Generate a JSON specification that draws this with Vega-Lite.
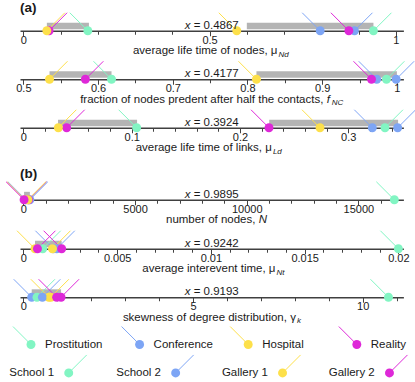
{
"$schema": "https://vega.github.io/schema/vega-lite/v6.json",
"padding": {"left": 4, "top": 0.75, "right": 0, "bottom": 0},
"bounds": "flush",
"spacing": 24.5,
"config": {"font": "Liberation Sans", "view": {"stroke": null}, "text": {"color": "#1a1a1a", "fontSize": 11.5}},
"datasets": {
"points": [
{"panel":1,"name":"Prostitution","value":0.173},{"panel":1,"name":"Conference","value":0.797},{"panel":1,"name":"Hospital","value":0.573},{"panel":1,"name":"School 1","value":0.940},{"panel":1,"name":"School 2","value":0.889},{"panel":1,"name":"Gallery 2","value":0.069},{"panel":1,"name":"Gallery 1","value":0.063},{"panel":1,"name":"Reality","value":0.874},
{"panel":2,"name":"Prostitution","value":0.618},{"panel":2,"name":"Conference","value":0.973},{"panel":2,"name":"Hospital","value":0.812},{"panel":2,"name":"School 1","value":0.986},{"panel":2,"name":"School 2","value":0.999},{"panel":2,"name":"Gallery 2","value":0.583},{"panel":2,"name":"Gallery 1","value":0.535},{"panel":2,"name":"Reality","value":0.966},
{"panel":3,"name":"Prostitution","value":0.1046},{"panel":3,"name":"Conference","value":0.3222},{"panel":3,"name":"Hospital","value":0.2739},{"panel":3,"name":"School 1","value":0.3339},{"panel":3,"name":"School 2","value":0.3456},{"panel":3,"name":"Gallery 2","value":0.040},{"panel":3,"name":"Gallery 1","value":0.0323},{"panel":3,"name":"Reality","value":0.2268},
{"panel":4,"name":"Prostitution","value":16610},{"panel":4,"name":"Conference","value":113},{"panel":4,"name":"Hospital","value":75},{"panel":4,"name":"School 1","value":240},{"panel":4,"name":"School 2","value":290},{"panel":4,"name":"Gallery 2","value":230},{"panel":4,"name":"Gallery 1","value":200},{"panel":4,"name":"Reality","value":30},
{"panel":5,"name":"Prostitution","value":0.0200},{"panel":5,"name":"Conference","value":0.0016},{"panel":5,"name":"Hospital","value":0.00062},{"panel":5,"name":"School 1","value":0.00103},{"panel":5,"name":"School 2","value":0.00178},{"panel":5,"name":"Gallery 2","value":0.00075},{"panel":5,"name":"Gallery 1","value":0.00155},{"panel":5,"name":"Reality","value":0.00204},
{"panel":6,"name":"Prostitution","value":10.76},{"panel":6,"name":"Conference","value":0.245},{"panel":6,"name":"Hospital","value":0.75},{"panel":6,"name":"School 1","value":0.40},{"panel":6,"name":"School 2","value":0.56},{"panel":6,"name":"Gallery 2","value":1.11},{"panel":6,"name":"Gallery 1","value":0.81},{"panel":6,"name":"Reality","value":0.98}
],
"bars": [
{"panel":1,"start":0.063,"end":0.176},{"panel":1,"start":0.600,"end":0.940},
{"panel":2,"start":0.535,"end":0.618},{"panel":2,"start":0.812,"end":1.0},
{"panel":3,"start":0.032,"end":0.105},{"panel":3,"start":0.227,"end":0.346},
{"panel":4,"start":30,"end":290},
{"panel":5,"start":0.00062,"end":0.00204},
{"panel":6,"start":0.245,"end":1.11}
],
"stats": [
{"panel":1,"stat":0.4867,"title":"average life time of nodes, μ","var":"","sub":"Nd"},
{"panel":2,"stat":0.4177,"title":"fraction of nodes predent after half the contacts,","var":"f","sub":"NC"},
{"panel":3,"stat":0.3924,"title":"average life time of links, μ","var":"","sub":"Ld"},
{"panel":4,"stat":0.9895,"title":"number of nodes,","var":"N","sub":""},
{"panel":5,"stat":0.9242,"title":"average interevent time, μ","var":"","sub":"Nt"},
{"panel":6,"stat":0.9193,"title":"skewness of degree distribution, γ","var":"","sub":"k"}
],
"names": [
{"name":"Prostitution","group":"A"},{"name":"Conference","group":"A"},{"name":"Hospital","group":"A"},{"name":"Reality","group":"A"},
{"name":"School 1","group":"B"},{"name":"School 2","group":"B"},{"name":"Gallery 1","group":"B"},{"name":"Gallery 2","group":"B"}
]
},
"vconcat": [
{"width": 383.4, "height": 24, "resolve": {"axis": {"x": "independent"}},
 "layer": [
  {"data": {"name": "bars"}, "transform": [{"filter": "datum.panel == 1"}], "mark": {"type": "rect", "color": "#b4b4b4"},
   "encoding": {"x": {"field": "start", "type": "quantitative", "scale": {"domain": [-0.0091, 1.0204], "nice": false, "zero": false}, "axis": {"orient": "bottom", "values": [0.1,0.2,0.3,0.4,0.6,0.7,0.8,0.9], "labels": false, "domain": false, "grid": false, "tickSize": 3.5, "tickColor": "#404040", "tickWidth": 1, "title": null}},
    "x2": {"field": "end"}, "y": {"datum": 0.06, "type": "quantitative", "scale": {"domain": [0, 1], "nice": false}, "axis": null}, "y2": {"datum": 0.33}}},
  {"data": {"name": "points"}, "transform": [{"filter": "datum.panel == 1"}], "mark": {"type": "point", "filled": false, "size": 1296, "strokeWidth": 1, "opacity": 1},
   "encoding": {"x": {"field": "value", "type": "quantitative", "scale": {"domain": [-0.0091, 1.0204], "nice": false, "zero": false}, "axis": null},
    "y": {"datum": 0, "type": "quantitative", "scale": {"domain": [0, 1], "nice": false}, "axis": null},
    "color": {"field":"name","type":"nominal","scale":{"domain":["Conference","Gallery 1","Gallery 2","Hospital","Prostitution","Reality","School 1","School 2"],"range":["#7da5f5","#fde04a","#de28d8","#fde04a","#82f5c3","#de28d8","#82f5c3","#7da5f5"]},"legend":null},
    "shape": {"field":"name","type":"nominal","scale":{"domain":["Conference","Gallery 1","Gallery 2","Hospital","Prostitution","Reality","School 1","School 2"],"range":["M0,0L-1,-1","M0,0L1,-1","M0,0L1,-1","M0,0L-1,-1","M0,0L-1,-1","M0,0L-1,-1","M0,0L1,-1","M0,0L1,-1"]},"legend":null}}},
  {"data": {"name": "points"}, "transform": [{"filter": "datum.panel == 1"}], "mark": {"type": "point", "filled": true, "shape": "circle", "size": 80, "opacity": 1, "strokeWidth": 0},
   "encoding": {"x": {"field": "value", "type": "quantitative", "scale": {"domain": [-0.0091, 1.0204], "nice": false, "zero": false}, "axis": {"orient": "bottom", "values": [0, 0.5, 1], "format": "~g", "grid": false, "tickSize": 5, "tickColor": "#404040", "tickWidth": 1, "domainColor": "#404040", "domainWidth": 1.5, "labelFontSize": 11, "labelColor": "#1a1a1a", "labelPadding": -1.7, "labelFlush": false, "labelOverlap": false, "title": null}},
    "y": {"datum": 0, "type": "quantitative", "scale": {"domain": [0, 1], "nice": false}, "axis": null},
    "color": {"field":"name","type":"nominal","scale":{"domain":["Conference","Gallery 1","Gallery 2","Hospital","Prostitution","Reality","School 1","School 2"],"range":["#7da5f5","#fde04a","#de28d8","#fde04a","#82f5c3","#de28d8","#82f5c3","#7da5f5"]},"legend":null}}},
  {"data": {"name": "stats"}, "transform": [{"filter": "datum.panel == 1"}], "mark": {"type": "text", "text": "x", "fontStyle": "italic", "align": "left", "baseline": "alphabetic", "dx": -27},
   "encoding": {"y": {"datum": 0.08, "type": "quantitative", "scale": {"domain": [0, 1], "nice": false}, "axis": null}}},
  {"data": {"name": "stats"}, "transform": [{"filter": "datum.panel == 1"}], "mark": {"type": "text", "text": "=", "align": "left", "baseline": "alphabetic", "dx": -18},
   "encoding": {"y": {"datum": 0.08, "type": "quantitative", "scale": {"domain": [0, 1], "nice": false}, "axis": null}}},
  {"data": {"name": "stats"}, "transform": [{"filter": "datum.panel == 1"}], "mark": {"type": "text", "align": "right", "baseline": "alphabetic", "dx": 27},
   "encoding": {"text": {"field": "stat", "type": "quantitative", "format": ".4f"}, "y": {"datum": 0.08, "type": "quantitative", "scale": {"domain": [0, 1], "nice": false}, "axis": null}}},
  {"data": {"name": "stats"}, "transform": [{"filter": "datum.panel == 1"}], "mark": {"type": "text", "align": "right", "baseline": "alphabetic", "dx": -0.3},
   "encoding": {"text": {"field": "title"}, "x": {"datum": 0.683, "type": "quantitative", "scale": {"domain": [-0.0091, 1.0204], "nice": false, "zero": false}, "axis": null}, "y": {"datum": -0.979, "type": "quantitative", "scale": {"domain": [0, 1], "nice": false}, "axis": null}}},
  {"data": {"name": "stats"}, "transform": [{"filter": "datum.panel == 1"}], "mark": {"type": "text", "align": "left", "baseline": "alphabetic", "fontStyle": "italic", "fontSize": 8, "dx": 0.8, "dy": 2.5},
   "encoding": {"text": {"field": "sub"}, "x": {"datum": 0.683, "type": "quantitative", "scale": {"domain": [-0.0091, 1.0204], "nice": false, "zero": false}, "axis": null}, "y": {"datum": -0.979, "type": "quantitative", "scale": {"domain": [0, 1], "nice": false}, "axis": null}}},
  {"data": {"name": "stats"}, "transform": [{"filter": "datum.panel == 1"}], "mark": {"type": "text", "text": "(a)", "fontWeight": "bold", "fontSize": 13.5, "align": "left", "baseline": "middle"},
   "encoding": {"x": {"datum": -0.0091, "type": "quantitative", "scale": {"domain": [-0.0091, 1.0204], "nice": false, "zero": false}, "axis": null}, "y": {"datum": 0.94, "type": "quantitative", "scale": {"domain": [0, 1], "nice": false}, "axis": null}}}
 ]},
{"width": 383.4, "height": 24, "resolve": {"axis": {"x": "independent"}},
 "layer": [
  {"data": {"name": "bars"}, "transform": [{"filter": "datum.panel == 2"}], "mark": {"type": "rect", "color": "#b4b4b4"},
   "encoding": {"x": {"field": "start", "type": "quantitative", "scale": {"domain": [0.4955, 1.0087], "nice": false, "zero": false}, "axis": {"orient": "bottom", "values": [0.55,0.65,0.75,0.85,0.95], "labels": false, "domain": false, "grid": false, "tickSize": 3.5, "tickColor": "#404040", "tickWidth": 1, "title": null}},
    "x2": {"field": "end"}, "y": {"datum": 0.06, "type": "quantitative", "scale": {"domain": [0, 1], "nice": false}, "axis": null}, "y2": {"datum": 0.33}}},
  {"data": {"name": "points"}, "transform": [{"filter": "datum.panel == 2"}], "mark": {"type": "point", "filled": false, "size": 1296, "strokeWidth": 1, "opacity": 1},
   "encoding": {"x": {"field": "value", "type": "quantitative", "scale": {"domain": [0.4955, 1.0087], "nice": false, "zero": false}, "axis": null},
    "y": {"datum": 0, "type": "quantitative", "scale": {"domain": [0, 1], "nice": false}, "axis": null},
    "color": {"field":"name","type":"nominal","scale":{"domain":["Conference","Gallery 1","Gallery 2","Hospital","Prostitution","Reality","School 1","School 2"],"range":["#7da5f5","#fde04a","#de28d8","#fde04a","#82f5c3","#de28d8","#82f5c3","#7da5f5"]},"legend":null},
    "shape": {"field":"name","type":"nominal","scale":{"domain":["Conference","Gallery 1","Gallery 2","Hospital","Prostitution","Reality","School 1","School 2"],"range":["M0,0L-1,-1","M0,0L1,-1","M0,0L1,-1","M0,0L-1,-1","M0,0L-1,-1","M0,0L-1,-1","M0,0L1,-1","M0,0L1,-1"]},"legend":null}}},
  {"data": {"name": "points"}, "transform": [{"filter": "datum.panel == 2"}], "mark": {"type": "point", "filled": true, "shape": "circle", "size": 80, "opacity": 1, "strokeWidth": 0},
   "encoding": {"x": {"field": "value", "type": "quantitative", "scale": {"domain": [0.4955, 1.0087], "nice": false, "zero": false}, "axis": {"orient": "bottom", "values": [0.5,0.6,0.7,0.8,0.9,1], "format": "~g", "grid": false, "tickSize": 5, "tickColor": "#404040", "tickWidth": 1, "domainColor": "#404040", "domainWidth": 1.5, "labelFontSize": 11, "labelColor": "#1a1a1a", "labelPadding": -1.7, "labelFlush": false, "labelOverlap": false, "title": null}},
    "y": {"datum": 0, "type": "quantitative", "scale": {"domain": [0, 1], "nice": false}, "axis": null},
    "color": {"field":"name","type":"nominal","scale":{"domain":["Conference","Gallery 1","Gallery 2","Hospital","Prostitution","Reality","School 1","School 2"],"range":["#7da5f5","#fde04a","#de28d8","#fde04a","#82f5c3","#de28d8","#82f5c3","#7da5f5"]},"legend":null}}},
  {"data": {"name": "stats"}, "transform": [{"filter": "datum.panel == 2"}], "mark": {"type": "text", "text": "x", "fontStyle": "italic", "align": "left", "baseline": "alphabetic", "dx": -27},
   "encoding": {"y": {"datum": 0.08, "type": "quantitative", "scale": {"domain": [0, 1], "nice": false}, "axis": null}}},
  {"data": {"name": "stats"}, "transform": [{"filter": "datum.panel == 2"}], "mark": {"type": "text", "text": "=", "align": "left", "baseline": "alphabetic", "dx": -18},
   "encoding": {"y": {"datum": 0.08, "type": "quantitative", "scale": {"domain": [0, 1], "nice": false}, "axis": null}}},
  {"data": {"name": "stats"}, "transform": [{"filter": "datum.panel == 2"}], "mark": {"type": "text", "align": "right", "baseline": "alphabetic", "dx": 27},
   "encoding": {"text": {"field": "stat", "type": "quantitative", "format": ".4f"}, "y": {"datum": 0.08, "type": "quantitative", "scale": {"domain": [0, 1], "nice": false}, "axis": null}}},
  {"data": {"name": "stats"}, "transform": [{"filter": "datum.panel == 2"}], "mark": {"type": "text", "align": "right", "baseline": "alphabetic", "dx": -0.3},
   "encoding": {"text": {"field": "title"}, "x": {"datum": 0.902, "type": "quantitative", "scale": {"domain": [0.4955, 1.0087], "nice": false, "zero": false}, "axis": null}, "y": {"datum": -0.979, "type": "quantitative", "scale": {"domain": [0, 1], "nice": false}, "axis": null}}},
  {"data": {"name": "stats"}, "transform": [{"filter": "datum.panel == 2"}], "mark": {"type": "text", "align": "left", "baseline": "alphabetic", "fontStyle": "italic", "dx": 3},
   "encoding": {"text": {"field": "var"}, "x": {"datum": 0.902, "type": "quantitative", "scale": {"domain": [0.4955, 1.0087], "nice": false, "zero": false}, "axis": null}, "y": {"datum": -0.979, "type": "quantitative", "scale": {"domain": [0, 1], "nice": false}, "axis": null}}},
  {"data": {"name": "stats"}, "transform": [{"filter": "datum.panel == 2"}], "mark": {"type": "text", "align": "left", "baseline": "alphabetic", "fontStyle": "italic", "fontSize": 8, "dx": 8, "dy": 2.5},
   "encoding": {"text": {"field": "sub"}, "x": {"datum": 0.902, "type": "quantitative", "scale": {"domain": [0.4955, 1.0087], "nice": false, "zero": false}, "axis": null}, "y": {"datum": -0.979, "type": "quantitative", "scale": {"domain": [0, 1], "nice": false}, "axis": null}}}
 ]},
{"width": 383.4, "height": 24, "resolve": {"axis": {"x": "independent"}},
 "layer": [
  {"data": {"name": "bars"}, "transform": [{"filter": "datum.panel == 3"}], "mark": {"type": "rect", "color": "#b4b4b4"},
   "encoding": {"x": {"field": "start", "type": "quantitative", "scale": {"domain": [-0.0031, 0.3509], "nice": false, "zero": false}, "axis": {"orient": "bottom", "values": [0.02,0.04,0.06,0.08,0.12,0.14,0.16,0.18,0.22,0.24,0.26,0.28,0.32,0.34], "labels": false, "domain": false, "grid": false, "tickSize": 3.5, "tickColor": "#404040", "tickWidth": 1, "title": null}},
    "x2": {"field": "end"}, "y": {"datum": 0.06, "type": "quantitative", "scale": {"domain": [0, 1], "nice": false}, "axis": null}, "y2": {"datum": 0.33}}},
  {"data": {"name": "points"}, "transform": [{"filter": "datum.panel == 3"}], "mark": {"type": "point", "filled": false, "size": 1296, "strokeWidth": 1, "opacity": 1},
   "encoding": {"x": {"field": "value", "type": "quantitative", "scale": {"domain": [-0.0031, 0.3509], "nice": false, "zero": false}, "axis": null},
    "y": {"datum": 0, "type": "quantitative", "scale": {"domain": [0, 1], "nice": false}, "axis": null},
    "color": {"field":"name","type":"nominal","scale":{"domain":["Conference","Gallery 1","Gallery 2","Hospital","Prostitution","Reality","School 1","School 2"],"range":["#7da5f5","#fde04a","#de28d8","#fde04a","#82f5c3","#de28d8","#82f5c3","#7da5f5"]},"legend":null},
    "shape": {"field":"name","type":"nominal","scale":{"domain":["Conference","Gallery 1","Gallery 2","Hospital","Prostitution","Reality","School 1","School 2"],"range":["M0,0L-1,-1","M0,0L1,-1","M0,0L1,-1","M0,0L-1,-1","M0,0L-1,-1","M0,0L-1,-1","M0,0L1,-1","M0,0L1,-1"]},"legend":null}}},
  {"data": {"name": "points"}, "transform": [{"filter": "datum.panel == 3"}], "mark": {"type": "point", "filled": true, "shape": "circle", "size": 80, "opacity": 1, "strokeWidth": 0},
   "encoding": {"x": {"field": "value", "type": "quantitative", "scale": {"domain": [-0.0031, 0.3509], "nice": false, "zero": false}, "axis": {"orient": "bottom", "values": [0,0.1,0.2,0.3], "format": "~g", "grid": false, "tickSize": 5, "tickColor": "#404040", "tickWidth": 1, "domainColor": "#404040", "domainWidth": 1.5, "labelFontSize": 11, "labelColor": "#1a1a1a", "labelPadding": -1.7, "labelFlush": false, "labelOverlap": false, "title": null}},
    "y": {"datum": 0, "type": "quantitative", "scale": {"domain": [0, 1], "nice": false}, "axis": null},
    "color": {"field":"name","type":"nominal","scale":{"domain":["Conference","Gallery 1","Gallery 2","Hospital","Prostitution","Reality","School 1","School 2"],"range":["#7da5f5","#fde04a","#de28d8","#fde04a","#82f5c3","#de28d8","#82f5c3","#7da5f5"]},"legend":null}}},
  {"data": {"name": "stats"}, "transform": [{"filter": "datum.panel == 3"}], "mark": {"type": "text", "text": "x", "fontStyle": "italic", "align": "left", "baseline": "alphabetic", "dx": -27},
   "encoding": {"y": {"datum": 0.08, "type": "quantitative", "scale": {"domain": [0, 1], "nice": false}, "axis": null}}},
  {"data": {"name": "stats"}, "transform": [{"filter": "datum.panel == 3"}], "mark": {"type": "text", "text": "=", "align": "left", "baseline": "alphabetic", "dx": -18},
   "encoding": {"y": {"datum": 0.08, "type": "quantitative", "scale": {"domain": [0, 1], "nice": false}, "axis": null}}},
  {"data": {"name": "stats"}, "transform": [{"filter": "datum.panel == 3"}], "mark": {"type": "text", "align": "right", "baseline": "alphabetic", "dx": 27},
   "encoding": {"text": {"field": "stat", "type": "quantitative", "format": ".4f"}, "y": {"datum": 0.08, "type": "quantitative", "scale": {"domain": [0, 1], "nice": false}, "axis": null}}},
  {"data": {"name": "stats"}, "transform": [{"filter": "datum.panel == 3"}], "mark": {"type": "text", "align": "right", "baseline": "alphabetic", "dx": -0.3},
   "encoding": {"text": {"field": "title"}, "x": {"datum": 0.2297, "type": "quantitative", "scale": {"domain": [-0.0031, 0.3509], "nice": false, "zero": false}, "axis": null}, "y": {"datum": -0.979, "type": "quantitative", "scale": {"domain": [0, 1], "nice": false}, "axis": null}}},
  {"data": {"name": "stats"}, "transform": [{"filter": "datum.panel == 3"}], "mark": {"type": "text", "align": "left", "baseline": "alphabetic", "fontStyle": "italic", "fontSize": 8, "dx": 0.8, "dy": 2.5},
   "encoding": {"text": {"field": "sub"}, "x": {"datum": 0.2297, "type": "quantitative", "scale": {"domain": [-0.0031, 0.3509], "nice": false, "zero": false}, "axis": null}, "y": {"datum": -0.979, "type": "quantitative", "scale": {"domain": [0, 1], "nice": false}, "axis": null}}}
 ]},
{"width": 383.4, "height": 47.5, "resolve": {"axis": {"x": "independent"}},
 "layer": [
  {"data": {"name": "bars"}, "transform": [{"filter": "datum.panel == 4"}], "mark": {"type": "rect", "color": "#b4b4b4"},
   "encoding": {"x": {"field": "start", "type": "quantitative", "scale": {"domain": [-152, 17015], "nice": false, "zero": false}, "axis": {"orient": "bottom", "values": [1000,2000,3000,4000,6000,7000,8000,9000,11000,12000,13000,14000,16000], "labels": false, "domain": false, "grid": false, "tickSize": 3.5, "tickColor": "#404040", "tickWidth": 1, "title": null}},
    "x2": {"field": "end"}, "y": {"datum": 0.06, "type": "quantitative", "scale": {"domain": [0, 1.979], "nice": false}, "axis": null}, "y2": {"datum": 0.33}}},
  {"data": {"name": "points"}, "transform": [{"filter": "datum.panel == 4"}], "mark": {"type": "point", "filled": false, "size": 1296, "strokeWidth": 1, "opacity": 1},
   "encoding": {"x": {"field": "value", "type": "quantitative", "scale": {"domain": [-152, 17015], "nice": false, "zero": false}, "axis": null},
    "y": {"datum": 0, "type": "quantitative", "scale": {"domain": [0, 1.979], "nice": false}, "axis": null},
    "color": {"field":"name","type":"nominal","scale":{"domain":["Conference","Gallery 1","Gallery 2","Hospital","Prostitution","Reality","School 1","School 2"],"range":["#7da5f5","#fde04a","#de28d8","#fde04a","#82f5c3","#de28d8","#82f5c3","#7da5f5"]},"legend":null},
    "shape": {"field":"name","type":"nominal","scale":{"domain":["Conference","Gallery 1","Gallery 2","Hospital","Prostitution","Reality","School 1","School 2"],"range":["M0,0L-1,-1","M0,0L1,-1","M0,0L1,-1","M0,0L-1,-1","M0,0L-1,-1","M0,0L-1,-1","M0,0L1,-1","M0,0L1,-1"]},"legend":null}}},
  {"data": {"name": "points"}, "transform": [{"filter": "datum.panel == 4"}], "mark": {"type": "point", "filled": true, "shape": "circle", "size": 80, "opacity": 1, "strokeWidth": 0},
   "encoding": {"x": {"field": "value", "type": "quantitative", "scale": {"domain": [-152, 17015], "nice": false, "zero": false}, "axis": {"orient": "bottom", "values": [0,5000,10000,15000], "format": "d", "grid": false, "tickSize": 5, "tickColor": "#404040", "tickWidth": 1, "domainColor": "#404040", "domainWidth": 1.5, "labelFontSize": 11, "labelColor": "#1a1a1a", "labelPadding": -1.7, "labelFlush": false, "labelOverlap": false, "title": null}},
    "y": {"datum": 0, "type": "quantitative", "scale": {"domain": [0, 1.979], "nice": false}, "axis": null},
    "color": {"field":"name","type":"nominal","scale":{"domain":["Conference","Gallery 1","Gallery 2","Hospital","Prostitution","Reality","School 1","School 2"],"range":["#7da5f5","#fde04a","#de28d8","#fde04a","#82f5c3","#de28d8","#82f5c3","#7da5f5"]},"legend":null}}},
  {"data": {"name": "stats"}, "transform": [{"filter": "datum.panel == 4"}], "mark": {"type": "text", "text": "x", "fontStyle": "italic", "align": "left", "baseline": "alphabetic", "dx": -27},
   "encoding": {"y": {"datum": 0.08, "type": "quantitative", "scale": {"domain": [0, 1.979], "nice": false}, "axis": null}}},
  {"data": {"name": "stats"}, "transform": [{"filter": "datum.panel == 4"}], "mark": {"type": "text", "text": "=", "align": "left", "baseline": "alphabetic", "dx": -18},
   "encoding": {"y": {"datum": 0.08, "type": "quantitative", "scale": {"domain": [0, 1.979], "nice": false}, "axis": null}}},
  {"data": {"name": "stats"}, "transform": [{"filter": "datum.panel == 4"}], "mark": {"type": "text", "align": "right", "baseline": "alphabetic", "dx": 27},
   "encoding": {"text": {"field": "stat", "type": "quantitative", "format": ".4f"}, "y": {"datum": 0.08, "type": "quantitative", "scale": {"domain": [0, 1.979], "nice": false}, "axis": null}}},
  {"data": {"name": "stats"}, "transform": [{"filter": "datum.panel == 4"}], "mark": {"type": "text", "align": "right", "baseline": "alphabetic", "dx": -0.3},
   "encoding": {"text": {"field": "title"}, "x": {"datum": 10402, "type": "quantitative", "scale": {"domain": [-152, 17015], "nice": false, "zero": false}, "axis": null}, "y": {"datum": -0.979, "type": "quantitative", "scale": {"domain": [0, 1.979], "nice": false}, "axis": null}}},
  {"data": {"name": "stats"}, "transform": [{"filter": "datum.panel == 4"}], "mark": {"type": "text", "align": "left", "baseline": "alphabetic", "fontStyle": "italic", "dx": 3},
   "encoding": {"text": {"field": "var"}, "x": {"datum": 10402, "type": "quantitative", "scale": {"domain": [-152, 17015], "nice": false, "zero": false}, "axis": null}, "y": {"datum": -0.979, "type": "quantitative", "scale": {"domain": [0, 1.979], "nice": false}, "axis": null}}},
  {"data": {"name": "stats"}, "transform": [{"filter": "datum.panel == 4"}], "mark": {"type": "text", "text": "(b)", "fontWeight": "bold", "fontSize": 13.5, "align": "left", "baseline": "middle"},
   "encoding": {"x": {"datum": -152, "type": "quantitative", "scale": {"domain": [-152, 17015], "nice": false, "zero": false}, "axis": null}, "y": {"datum": 1.083, "type": "quantitative", "scale": {"domain": [0, 1.979], "nice": false}, "axis": null}}}
 ]},
{"width": 383.4, "height": 24, "resolve": {"axis": {"x": "independent"}},
 "layer": [
  {"data": {"name": "bars"}, "transform": [{"filter": "datum.panel == 5"}], "mark": {"type": "rect", "color": "#b4b4b4"},
   "encoding": {"x": {"field": "start", "type": "quantitative", "scale": {"domain": [-0.000181, 0.020267], "nice": false, "zero": false}, "axis": {"orient": "bottom", "values": [0.001,0.002,0.003,0.004,0.006,0.007,0.008,0.009,0.011,0.012,0.013,0.014,0.016,0.017,0.018,0.019], "labels": false, "domain": false, "grid": false, "tickSize": 3.5, "tickColor": "#404040", "tickWidth": 1, "title": null}},
    "x2": {"field": "end"}, "y": {"datum": 0.06, "type": "quantitative", "scale": {"domain": [0, 1], "nice": false}, "axis": null}, "y2": {"datum": 0.33}}},
  {"data": {"name": "points"}, "transform": [{"filter": "datum.panel == 5"}], "mark": {"type": "point", "filled": false, "size": 1296, "strokeWidth": 1, "opacity": 1},
   "encoding": {"x": {"field": "value", "type": "quantitative", "scale": {"domain": [-0.000181, 0.020267], "nice": false, "zero": false}, "axis": null},
    "y": {"datum": 0, "type": "quantitative", "scale": {"domain": [0, 1], "nice": false}, "axis": null},
    "color": {"field":"name","type":"nominal","scale":{"domain":["Conference","Gallery 1","Gallery 2","Hospital","Prostitution","Reality","School 1","School 2"],"range":["#7da5f5","#fde04a","#de28d8","#fde04a","#82f5c3","#de28d8","#82f5c3","#7da5f5"]},"legend":null},
    "shape": {"field":"name","type":"nominal","scale":{"domain":["Conference","Gallery 1","Gallery 2","Hospital","Prostitution","Reality","School 1","School 2"],"range":["M0,0L-1,-1","M0,0L1,-1","M0,0L1,-1","M0,0L-1,-1","M0,0L-1,-1","M0,0L-1,-1","M0,0L1,-1","M0,0L1,-1"]},"legend":null}}},
  {"data": {"name": "points"}, "transform": [{"filter": "datum.panel == 5"}], "mark": {"type": "point", "filled": true, "shape": "circle", "size": 80, "opacity": 1, "strokeWidth": 0},
   "encoding": {"x": {"field": "value", "type": "quantitative", "scale": {"domain": [-0.000181, 0.020267], "nice": false, "zero": false}, "axis": {"orient": "bottom", "values": [0,0.005,0.01,0.015,0.02], "format": "~g", "grid": false, "tickSize": 5, "tickColor": "#404040", "tickWidth": 1, "domainColor": "#404040", "domainWidth": 1.5, "labelFontSize": 11, "labelColor": "#1a1a1a", "labelPadding": -1.7, "labelFlush": false, "labelOverlap": false, "title": null}},
    "y": {"datum": 0, "type": "quantitative", "scale": {"domain": [0, 1], "nice": false}, "axis": null},
    "color": {"field":"name","type":"nominal","scale":{"domain":["Conference","Gallery 1","Gallery 2","Hospital","Prostitution","Reality","School 1","School 2"],"range":["#7da5f5","#fde04a","#de28d8","#fde04a","#82f5c3","#de28d8","#82f5c3","#7da5f5"]},"legend":null}}},
  {"data": {"name": "stats"}, "transform": [{"filter": "datum.panel == 5"}], "mark": {"type": "text", "text": "x", "fontStyle": "italic", "align": "left", "baseline": "alphabetic", "dx": -27},
   "encoding": {"y": {"datum": 0.08, "type": "quantitative", "scale": {"domain": [0, 1], "nice": false}, "axis": null}}},
  {"data": {"name": "stats"}, "transform": [{"filter": "datum.panel == 5"}], "mark": {"type": "text", "text": "=", "align": "left", "baseline": "alphabetic", "dx": -18},
   "encoding": {"y": {"datum": 0.08, "type": "quantitative", "scale": {"domain": [0, 1], "nice": false}, "axis": null}}},
  {"data": {"name": "stats"}, "transform": [{"filter": "datum.panel == 5"}], "mark": {"type": "text", "align": "right", "baseline": "alphabetic", "dx": 27},
   "encoding": {"text": {"field": "stat", "type": "quantitative", "format": ".4f"}, "y": {"datum": 0.08, "type": "quantitative", "scale": {"domain": [0, 1], "nice": false}, "axis": null}}},
  {"data": {"name": "stats"}, "transform": [{"filter": "datum.panel == 5"}], "mark": {"type": "text", "align": "right", "baseline": "alphabetic", "dx": -0.3},
   "encoding": {"text": {"field": "title"}, "x": {"datum": 0.013456, "type": "quantitative", "scale": {"domain": [-0.000181, 0.020267], "nice": false, "zero": false}, "axis": null}, "y": {"datum": -0.979, "type": "quantitative", "scale": {"domain": [0, 1], "nice": false}, "axis": null}}},
  {"data": {"name": "stats"}, "transform": [{"filter": "datum.panel == 5"}], "mark": {"type": "text", "align": "left", "baseline": "alphabetic", "fontStyle": "italic", "fontSize": 8, "dx": 0.8, "dy": 2.5},
   "encoding": {"text": {"field": "sub"}, "x": {"datum": 0.013456, "type": "quantitative", "scale": {"domain": [-0.000181, 0.020267], "nice": false, "zero": false}, "axis": null}, "y": {"datum": -0.979, "type": "quantitative", "scale": {"domain": [0, 1], "nice": false}, "axis": null}}}
 ]},
{"width": 383.4, "height": 24, "resolve": {"axis": {"x": "independent"}},
 "layer": [
  {"data": {"name": "bars"}, "transform": [{"filter": "datum.panel == 6"}], "mark": {"type": "rect", "color": "#b4b4b4"},
   "encoding": {"x": {"field": "start", "type": "quantitative", "scale": {"domain": [-0.1, 11.2], "nice": false, "zero": false}, "axis": {"orient": "bottom", "values": [1,2,3,4,6,7,8,9,11], "labels": false, "domain": false, "grid": false, "tickSize": 3.5, "tickColor": "#404040", "tickWidth": 1, "title": null}},
    "x2": {"field": "end"}, "y": {"datum": 0.06, "type": "quantitative", "scale": {"domain": [0, 1], "nice": false}, "axis": null}, "y2": {"datum": 0.33}}},
  {"data": {"name": "points"}, "transform": [{"filter": "datum.panel == 6"}], "mark": {"type": "point", "filled": false, "size": 1296, "strokeWidth": 1, "opacity": 1},
   "encoding": {"x": {"field": "value", "type": "quantitative", "scale": {"domain": [-0.1, 11.2], "nice": false, "zero": false}, "axis": null},
    "y": {"datum": 0, "type": "quantitative", "scale": {"domain": [0, 1], "nice": false}, "axis": null},
    "color": {"field":"name","type":"nominal","scale":{"domain":["Conference","Gallery 1","Gallery 2","Hospital","Prostitution","Reality","School 1","School 2"],"range":["#7da5f5","#fde04a","#de28d8","#fde04a","#82f5c3","#de28d8","#82f5c3","#7da5f5"]},"legend":null},
    "shape": {"field":"name","type":"nominal","scale":{"domain":["Conference","Gallery 1","Gallery 2","Hospital","Prostitution","Reality","School 1","School 2"],"range":["M0,0L-1,-1","M0,0L1,-1","M0,0L1,-1","M0,0L-1,-1","M0,0L-1,-1","M0,0L-1,-1","M0,0L1,-1","M0,0L1,-1"]},"legend":null}}},
  {"data": {"name": "points"}, "transform": [{"filter": "datum.panel == 6"}], "mark": {"type": "point", "filled": true, "shape": "circle", "size": 80, "opacity": 1, "strokeWidth": 0},
   "encoding": {"x": {"field": "value", "type": "quantitative", "scale": {"domain": [-0.1, 11.2], "nice": false, "zero": false}, "axis": {"orient": "bottom", "values": [0,5,10], "format": "d", "grid": false, "tickSize": 5, "tickColor": "#404040", "tickWidth": 1, "domainColor": "#404040", "domainWidth": 1.5, "labelFontSize": 11, "labelColor": "#1a1a1a", "labelPadding": -1.7, "labelFlush": false, "labelOverlap": false, "title": null}},
    "y": {"datum": 0, "type": "quantitative", "scale": {"domain": [0, 1], "nice": false}, "axis": null},
    "color": {"field":"name","type":"nominal","scale":{"domain":["Conference","Gallery 1","Gallery 2","Hospital","Prostitution","Reality","School 1","School 2"],"range":["#7da5f5","#fde04a","#de28d8","#fde04a","#82f5c3","#de28d8","#82f5c3","#7da5f5"]},"legend":null}}},
  {"data": {"name": "stats"}, "transform": [{"filter": "datum.panel == 6"}], "mark": {"type": "text", "text": "x", "fontStyle": "italic", "align": "left", "baseline": "alphabetic", "dx": -27},
   "encoding": {"y": {"datum": 0.08, "type": "quantitative", "scale": {"domain": [0, 1], "nice": false}, "axis": null}}},
  {"data": {"name": "stats"}, "transform": [{"filter": "datum.panel == 6"}], "mark": {"type": "text", "text": "=", "align": "left", "baseline": "alphabetic", "dx": -18},
   "encoding": {"y": {"datum": 0.08, "type": "quantitative", "scale": {"domain": [0, 1], "nice": false}, "axis": null}}},
  {"data": {"name": "stats"}, "transform": [{"filter": "datum.panel == 6"}], "mark": {"type": "text", "align": "right", "baseline": "alphabetic", "dx": 27},
   "encoding": {"text": {"field": "stat", "type": "quantitative", "format": ".4f"}, "y": {"datum": 0.08, "type": "quantitative", "scale": {"domain": [0, 1], "nice": false}, "axis": null}}},
  {"data": {"name": "stats"}, "transform": [{"filter": "datum.panel == 6"}], "mark": {"type": "text", "align": "right", "baseline": "alphabetic", "dx": -0.3},
   "encoding": {"text": {"field": "title"}, "x": {"datum": 8.04, "type": "quantitative", "scale": {"domain": [-0.1, 11.2], "nice": false, "zero": false}, "axis": null}, "y": {"datum": -0.979, "type": "quantitative", "scale": {"domain": [0, 1], "nice": false}, "axis": null}}},
  {"data": {"name": "stats"}, "transform": [{"filter": "datum.panel == 6"}], "mark": {"type": "text", "align": "left", "baseline": "alphabetic", "fontStyle": "italic", "fontSize": 8, "dx": 0.8, "dy": 2.5},
   "encoding": {"text": {"field": "sub"}, "x": {"datum": 8.04, "type": "quantitative", "scale": {"domain": [-0.1, 11.2], "nice": false, "zero": false}, "axis": null}, "y": {"datum": -0.979, "type": "quantitative", "scale": {"domain": [0, 1], "nice": false}, "axis": null}}}
 ]},
{"width": 383.4, "height": 51.2, "data": {"name": "names"}, "resolve": {"scale": {"x": "independent"}},
 "layer": [
  {"transform": [{"filter": "datum.group == 'A'"}],
   "encoding": {
    "x": {"field": "name", "type": "nominal", "scale": {"type": "point", "domain": ["Prostitution","Conference","Hospital","Reality"], "padding": 0.265}, "axis": null},
    "y": {"field": "group", "type": "nominal", "scale": {"type": "point", "domain": ["A","B"], "padding": 0.401, "align": 1}, "axis": null},
    "color": {"field":"name","type":"nominal","scale":{"domain":["Conference","Gallery 1","Gallery 2","Hospital","Prostitution","Reality","School 1","School 2"],"range":["#7da5f5","#fde04a","#de28d8","#fde04a","#82f5c3","#de28d8","#82f5c3","#7da5f5"]},"legend":null}},
   "layer": [
    {"mark": {"type": "point", "filled": false, "size": 1296, "strokeWidth": 1, "opacity": 1, "xOffset": -17.8},
     "encoding": {"shape": {"field":"name","type":"nominal","scale":{"domain":["Conference","Gallery 1","Gallery 2","Hospital","Prostitution","Reality","School 1","School 2"],"range":["M0,0L-1,-1","M0,0L1,-1","M0,0L1,-1","M0,0L-1,-1","M0,0L-1,-1","M0,0L-1,-1","M0,0L1,-1","M0,0L1,-1"]},"legend":null}}},
    {"mark": {"type": "point", "filled": true, "shape": "circle", "size": 80, "opacity": 1, "strokeWidth": 0, "xOffset": -17.8}},
    {"mark": {"type": "text", "align": "left", "baseline": "middle", "dx": 14, "xOffset": -17.8, "fontSize": 11.5},
     "encoding": {"text": {"field": "name"}, "color": {"value": "#1a1a1a"}}}
   ]},
  {"transform": [{"filter": "datum.group == 'B'"}],
   "encoding": {
    "x": {"field": "name", "type": "nominal", "scale": {"type": "point", "domain": ["School 1","School 2","Gallery 1","Gallery 2"], "padding": 0.293}, "axis": null},
    "y": {"field": "group", "type": "nominal", "scale": {"type": "point", "domain": ["A","B"], "padding": 0.401, "align": 1}, "axis": null},
    "color": {"field":"name","type":"nominal","scale":{"domain":["Conference","Gallery 1","Gallery 2","Hospital","Prostitution","Reality","School 1","School 2"],"range":["#7da5f5","#fde04a","#de28d8","#fde04a","#82f5c3","#de28d8","#82f5c3","#7da5f5"]},"legend":null}},
   "layer": [
    {"mark": {"type": "point", "filled": false, "size": 1296, "strokeWidth": 1, "opacity": 1, "xOffset": 17.4},
     "encoding": {"shape": {"field":"name","type":"nominal","scale":{"domain":["Conference","Gallery 1","Gallery 2","Hospital","Prostitution","Reality","School 1","School 2"],"range":["M0,0L-1,-1","M0,0L1,-1","M0,0L1,-1","M0,0L-1,-1","M0,0L-1,-1","M0,0L-1,-1","M0,0L1,-1","M0,0L1,-1"]},"legend":null}}},
    {"mark": {"type": "point", "filled": true, "shape": "circle", "size": 80, "opacity": 1, "strokeWidth": 0, "xOffset": 17.4}},
    {"mark": {"type": "text", "align": "right", "baseline": "middle", "dx": -14.7, "xOffset": 17.4, "fontSize": 11.5},
     "encoding": {"text": {"field": "name"}, "color": {"value": "#1a1a1a"}}}
   ]}
 ]}
]
}
